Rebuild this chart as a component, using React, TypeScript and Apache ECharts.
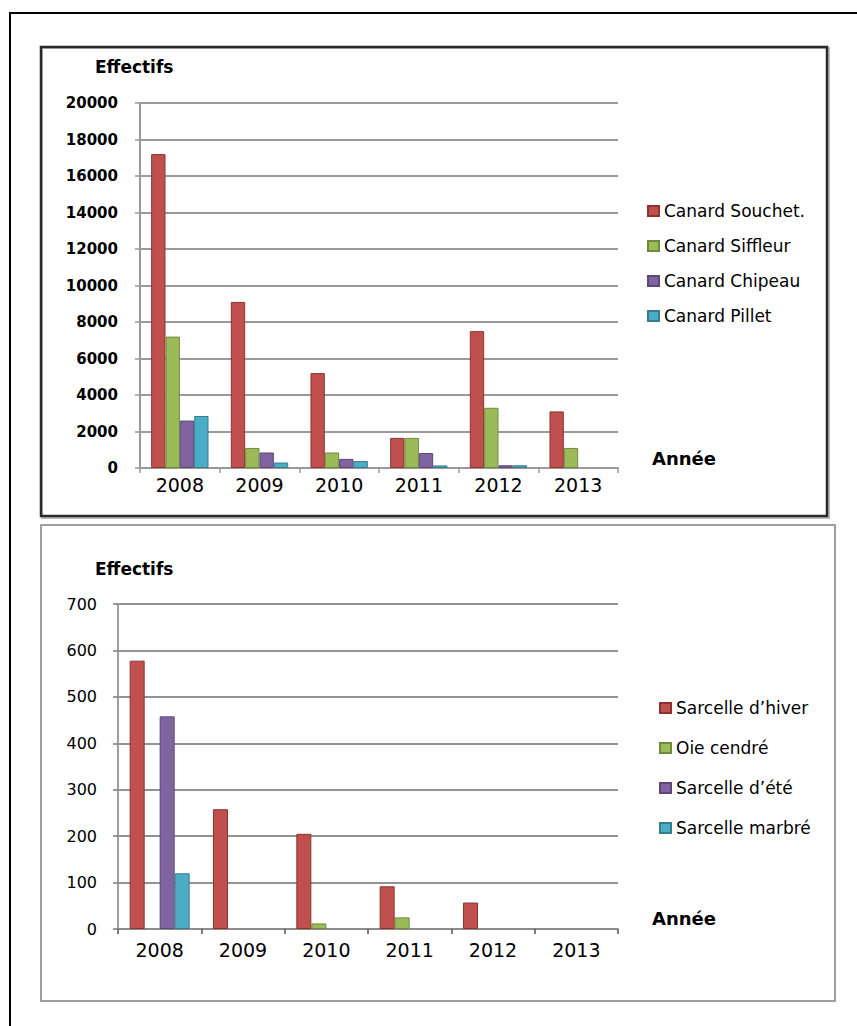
import React, { useEffect, useRef } from "react";
import * as echarts from "echarts";

const years = ["2008", "2009", "2010", "2011", "2012", "2013"];

const topNames = ["Canard Souchet.", "Canard Siffleur", "Canard Chipeau", "Canard Pillet"];
const canardSouchet = [17200, 9100, 5200, 1650, 7500, 3100];
const canardSiffleur = [7200, 1100, 850, 1650, 3300, 1100];
const canardChipeau = [2600, 850, 500, 820, 150, 0];
const canardPillet = [2850, 300, 380, 140, 150, 0];
const topMax = 20000;
const topInterval = 2000;

const bottomNames = ["Sarcelle d’hiver", "Oie cendré", "Sarcelle d’été", "Sarcelle marbré"];
const sarcelleHiver = [578, 258, 205, 92, 57, 0];
const oieCendre = [0, 0, 12, 25, 0, 0];
const sarcelleEte = [458, 0, 0, 0, 0, 0];
const sarcelleMarbre = [120, 0, 0, 0, 0, 0];
const bottomMax = 700;
const bottomInterval = 100;

const fills = ["#C0504D", "#9BBB59", "#8064A2", "#4BACC6"];
const borders = ["#8C3331", "#71893F", "#5C4776", "#357D91"];

const FONT = "DejaVu Sans";

function mkData(arr: number[]) {
  return arr.map((v) => (v === 0 ? { value: v, itemStyle: { borderWidth: 0 } } : v));
}

export default function App() {
  const ref = useRef<HTMLDivElement>(null);
  useEffect(() => {
    if (!ref.current) return;
    document.body.style.margin = "0";
    const chart = echarts.init(ref.current, null, { renderer: "svg" });
    const topSeries = [canardSouchet, canardSiffleur, canardChipeau, canardPillet];
    const bottomSeries = [sarcelleHiver, oieCendre, sarcelleEte, sarcelleMarbre];

    const series: any[] = [];
    topSeries.forEach((arr, i) => {
      series.push({
        type: "bar",
        name: topNames[i],
        xAxisIndex: 0,
        yAxisIndex: 0,
        data: mkData(arr),
        barGap: "0%",
        barCategoryGap: "28%",
        itemStyle: { color: fills[i], borderColor: borders[i], borderWidth: 1 },
      });
    });
    bottomSeries.forEach((arr, i) => {
      series.push({
        type: "bar",
        name: bottomNames[i],
        xAxisIndex: 1,
        yAxisIndex: 1,
        data: mkData(arr),
        barGap: "0%",
        barCategoryGap: "28%",
        itemStyle: { color: fills[i], borderColor: borders[i], borderWidth: 1 },
      });
    });

    const plain = (v: number) => String(v);

    const option: any = {
      animation: false,
      backgroundColor: "#ffffff",
      grid: [
        { left: 140, top: 103, width: 478, height: 365 },
        { left: 118, top: 604, width: 500, height: 325 },
      ],
      xAxis: [
        {
          type: "category",
          gridIndex: 0,
          data: years,
          axisLine: { lineStyle: { color: "#999999", width: 2 } },
          axisTick: { show: true, length: 5, lineStyle: { color: "#999999", width: 1.5 } },
          axisLabel: { color: "#000", fontFamily: FONT, fontSize: 19, margin: 7 },
        },
        {
          type: "category",
          gridIndex: 1,
          data: years,
          axisLine: { lineStyle: { color: "#8a8a8a", width: 1.5 } },
          axisTick: { show: true, length: 5, lineStyle: { color: "#555555", width: 1.5 } },
          axisLabel: { color: "#000", fontFamily: FONT, fontSize: 19, margin: 11 },
        },
      ],
      yAxis: [
        {
          type: "value",
          gridIndex: 0,
          min: 0,
          max: topMax,
          interval: topInterval,
          axisLine: { show: true, lineStyle: { color: "#999999", width: 2 } },
          axisTick: { show: true, length: 5, lineStyle: { color: "#999999", width: 1.5 } },
          splitLine: { show: true, lineStyle: { color: "#9a9a9a", width: 2 } },
          axisLabel: { color: "#000", fontFamily: FONT, fontSize: 15, fontWeight: "bold", margin: 22, formatter: plain },
        },
        {
          type: "value",
          gridIndex: 1,
          min: 0,
          max: bottomMax,
          interval: bottomInterval,
          axisLine: { show: true, lineStyle: { color: "#a0a0a0", width: 2 } },
          axisTick: { show: true, length: 5, lineStyle: { color: "#777777", width: 1.5 } },
          splitLine: { show: true, lineStyle: { color: "#6e6e6e", width: 1.5 } },
          axisLabel: { color: "#000", fontFamily: FONT, fontSize: 16, margin: 21, formatter: plain },
        },
      ],
      legend: [
        {
          data: topNames,
          orient: "vertical",
          left: 642,
          top: 196,
          itemWidth: 11,
          itemHeight: 10,
          itemGap: 15,
          icon: "rect",
          textStyle: { color: "#000", fontFamily: FONT, fontSize: 17, lineHeight: 20 },
        },
        {
          data: bottomNames,
          orient: "vertical",
          left: 654,
          top: 693,
          itemWidth: 11,
          itemHeight: 10,
          itemGap: 20,
          icon: "rect",
          textStyle: { color: "#000", fontFamily: FONT, fontSize: 17, lineHeight: 20 },
        },
      ],
      graphic: [
        {
          type: "rect",
          shape: { x: 10, y: 13, width: 870, height: 1040 },
          style: { fill: "none", stroke: "#000", lineWidth: 2 },
          silent: true,
        },
        {
          type: "rect",
          shape: { x: 42, y: 48, width: 787, height: 470 },
          style: { fill: "none", stroke: "#bbbbbb", lineWidth: 2 },
          silent: true,
        },
        {
          type: "rect",
          shape: { x: 41, y: 47, width: 786, height: 469 },
          style: { fill: "none", stroke: "#2a2a2a", lineWidth: 2.5 },
          silent: true,
        },
        {
          type: "rect",
          shape: { x: 41, y: 525, width: 794, height: 476 },
          style: { fill: "none", stroke: "#808080", lineWidth: 1.5 },
          silent: true,
        },
        {
          type: "text",
          left: 95,
          top: 58,
          style: { text: "Effectifs", fill: "#000", font: `bold 17px "${FONT}"` },
        },
        {
          type: "text",
          left: 95,
          top: 560,
          style: { text: "Effectifs", fill: "#000", font: `bold 17px "${FONT}"` },
        },
        {
          type: "text",
          left: 652,
          top: 449,
          style: { text: "Année", fill: "#000", font: `bold 18px "${FONT}"` },
        },
        {
          type: "text",
          left: 652,
          top: 909,
          style: { text: "Année", fill: "#000", font: `bold 18px "${FONT}"` },
        },
      ],
      series,
    };
    chart.setOption(option);
    return () => chart.dispose();
  }, []);
  return (
    <div
      ref={ref}
      style={{ position: "absolute", left: 0, top: 0, width: 857, height: 1026 }}
    />
  );
}
